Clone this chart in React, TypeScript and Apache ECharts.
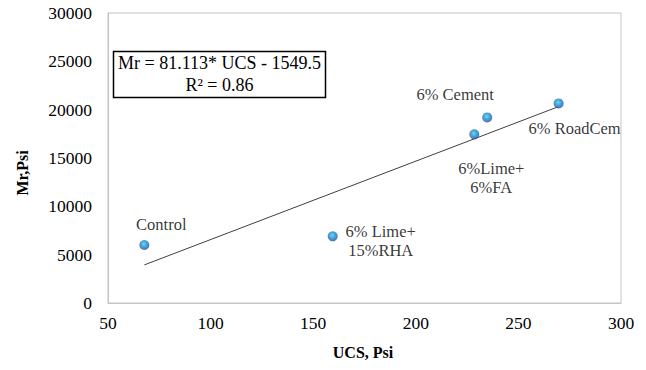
import React, { useEffect, useRef } from "react";
import * as echarts from "echarts";

// Mixture names, UCS (psi) and resilient modulus Mr (psi)
const mixes = ["Control", "6% Lime+\n15%RHA", "6%Lime+\n6%FA", "6% Cement", "6% RoadCem"];
const ucs = [67.7, 159.5, 228.5, 234.8, 269.6];
const mr = [6000, 6900, 17450, 19200, 20650];

// Linear fit: Mr = slope * UCS + intercept
const slope = 81.113;
const intercept = -1549.5;
const r2 = 0.86;

// Label offsets (px) for each point's name
const labelOffsets: [number, number][] = [
  [17, -21],
  [48, 5],
  [17, 44],
  [-32, -23],
  [16, 25],
];

const serif = "Liberation Serif";

export default function App() {
  const ref = useRef<HTMLDivElement>(null);

  useEffect(() => {
    if (!ref.current) return;
    const chart = echarts.init(ref.current, undefined, { renderer: "svg" });

    const xMin = Math.min(...ucs);
    const xMax = Math.max(...ucs);
    const fit = [
      [xMin, slope * xMin + intercept],
      [xMax, slope * xMax + intercept],
    ];

    const markerColor = new echarts.graphic.RadialGradient(0.45, 0.4, 0.6, [
      { offset: 0, color: "#3fd4f7" },
      { offset: 0.45, color: "#1c8fd2" },
      { offset: 1, color: "#244f9e" },
    ]);

    chart.setOption({
      animation: false,
      backgroundColor: "#ffffff",
      textStyle: { fontFamily: serif },
      grid: {
        left: 108,
        top: 13,
        right: 25,
        bottom: 67,
        show: true,
        borderColor: "#c4c4c4",
        borderWidth: 1,
      },
      xAxis: {
        type: "value",
        min: 50,
        max: 300,
        interval: 50,
        axisLine: { show: true, onZero: false, lineStyle: { color: "#c4c4c4", width: 1 } },
        axisTick: { show: false },
        splitLine: { show: false },
        axisLabel: {
          color: "#000",
          fontFamily: serif,
          fontSize: 17.5,
          margin: 11,
          formatter: (v: number) => String(v),
        },
      },
      yAxis: {
        type: "value",
        min: 0,
        max: 30000,
        interval: 5000,
        axisLine: { show: true, lineStyle: { color: "#c4c4c4", width: 1 } },
        axisTick: { show: false },
        splitLine: { show: false },
        axisLabel: {
          color: "#000",
          fontFamily: serif,
          fontSize: 17.5,
          margin: 16,
          formatter: (v: number) => String(v),
        },
      },
      series: [
        {
          type: "line",
          data: fit,
          symbol: "none",
          lineStyle: { color: "#404040", width: 1 },
          z: 2,
        },
        {
          type: "scatter",
          data: ucs.map((u, i) => ({
            value: [u, mr[i]],
            name: mixes[i],
            label: { offset: labelOffsets[i] },
          })),
          symbolSize: 10,
          itemStyle: { color: markerColor },
          label: {
            show: true,
            position: "inside",
            formatter: (p: any) => p.name,
            color: "#000",
            fontFamily: serif,
            fontSize: 16.5,
            lineHeight: 19,
            align: "center",
            verticalAlign: "middle",
          },
          z: 3,
        },
      ],
      graphic: [
        {
          type: "rect",
          shape: { x: 113.5, y: 51.5, width: 212, height: 46 },
          style: { fill: "#fff", stroke: "#000", lineWidth: 1.5 },
          z: 10,
        },
        {
          type: "text",
          x: 219.5,
          y: 63,
          style: {
            text: `Mr = ${slope}* UCS - ${Math.abs(intercept)}`,
            font: `18px "${serif}"`,
            fill: "#000",
            align: "center",
            verticalAlign: "middle",
          },
          z: 11,
        },
        {
          type: "text",
          x: 219.5,
          y: 85,
          style: {
            text: `R² = ${r2}`,
            font: `18px "${serif}"`,
            fill: "#000",
            align: "center",
            verticalAlign: "middle",
          },
          z: 11,
        },
        {
          type: "text",
          x: 22,
          y: 173,
          rotation: Math.PI / 2,
          style: {
            text: "Mr,Psi",
            font: `bold 16px "${serif}"`,
            fill: "#000",
            align: "center",
            verticalAlign: "middle",
          },
        },
        {
          type: "text",
          x: 363,
          y: 352,
          style: {
            text: "UCS, Psi",
            font: `bold 16px "${serif}"`,
            fill: "#000",
            align: "center",
            verticalAlign: "middle",
          },
        },
      ],
    });

    return () => chart.dispose();
  }, []);

  return <div ref={ref} style={{ width: 646, height: 370, position: "absolute", left: 0, top: 0 }} />;
}
